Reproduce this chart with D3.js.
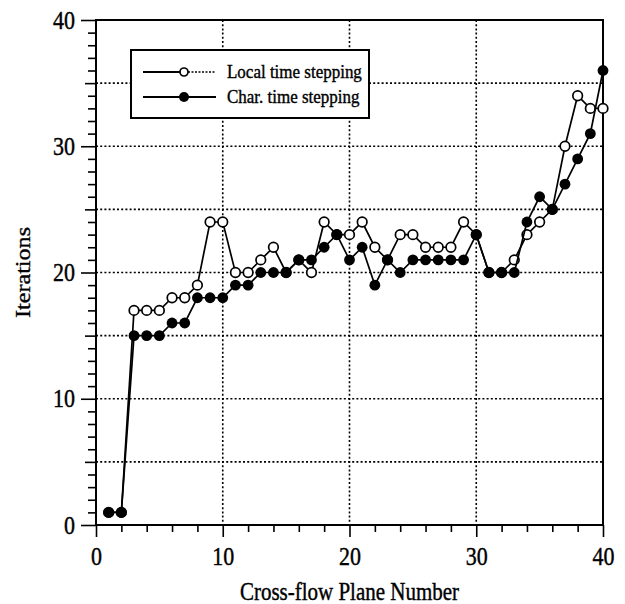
<!DOCTYPE html>
<html lang="en">
<head>
    <meta charset="UTF-8">
    <title>Iterations per cross-flow plane</title>
    <script type="text/javascript" src="https://d3js.org/d3.v7.min.js"></script>
    <style>
      body { margin: 0; background: #fff; }
      text { font-family: "Liberation Serif", "Times New Roman", serif; fill: #000; stroke: #000; stroke-width: 0.35px; }
    </style>
    <script type="text/javascript">
      // plane numbers along x
      var planes = [1, 2, 3, 4, 5, 6, 7, 8, 9, 10, 11, 12, 13, 14, 15, 16, 17, 18, 19, 20,
                    21, 22, 23, 24, 25, 26, 27, 28, 29, 30, 31, 32, 33, 34, 35, 36, 37, 38, 39, 40];

      // iterations, local time stepping (open circles)
      var localSteps = [1, 1, 17, 17, 17, 18, 18, 19, 24, 24, 20, 20, 21, 22, 20, 21, 20, 24, 23, 23,
                        24, 22, 21, 23, 23, 22, 22, 22, 24, 23, 20, 20, 21, 23, 24, 25, 30, 34, 33, 33];

      // iterations, characteristic time stepping (filled circles)
      var charSteps = [1, 1, 15, 15, 15, 16, 16, 18, 18, 18, 19, 19, 20, 20, 20, 21, 21, 22, 23, 21,
                       22, 19, 21, 20, 21, 21, 21, 21, 21, 23, 20, 20, 20, 24, 26, 25, 27, 29, 31, 36];

      var seriesNames = ["Local time stepping", "Char. time stepping"];

      // tick values
      var xLabelTicks = [0, 10, 20, 30, 40];
      var xMinorTicks = [2, 4, 6, 8, 12, 14, 16, 18, 22, 24, 26, 28, 32, 34, 36, 38];
      var yLabelTicks = [0, 10, 20, 30, 40];
      var yMidTicks = [5, 15, 25, 35];
      var yMinorTicks = [1, 2, 3, 4, 6, 7, 8, 9, 11, 12, 13, 14, 16, 17, 18, 19,
                         21, 22, 23, 24, 26, 27, 28, 29, 31, 32, 33, 34, 36, 37, 38, 39];
      var xGrid = [10, 20, 30];
      var yGrid = [5, 10, 15, 20, 25, 30, 35];

      function chart() {
        var width = 625, height = 604;
        var left = 96, right = 603, top = 20, bottom = 525;
        var tall = 1.15; // glyphs are a bit taller than wide

        var svg = d3.select("body").append("svg")
                    .attr("width", width)
                    .attr("height", height);

        var x = d3.scaleLinear().domain([0, 40]).range([left, right]);
        var y = d3.scaleLinear().domain([0, 40]).range([bottom, top]);

        // dotted grid
        var grid = svg.append("g")
                      .attr("stroke", "#000")
                      .attr("stroke-width", 1.6)
                      .attr("stroke-dasharray", "2,2.2");
        grid.selectAll("line.h").data(yGrid).enter().append("line")
            .attr("class", "h")
            .attr("x1", left).attr("x2", right)
            .attr("y1", function (d) { return y(d); })
            .attr("y2", function (d) { return y(d); });
        grid.selectAll("line.v").data(xGrid).enter().append("line")
            .attr("class", "v")
            .attr("y1", top).attr("y2", bottom)
            .attr("x1", function (d) { return x(d); })
            .attr("x2", function (d) { return x(d); });

        // axes: minor, middle and labelled ticks drawn separately
        function styleAxis(g) {
          g.select(".domain").remove();
          g.selectAll(".tick line").attr("stroke", "#000").attr("stroke-width", 1.6);
          g.selectAll(".tick text")
           .attr("font-size", "22px").attr("font-family", null)
           .attr("transform", "scale(1," + tall + ")");
        }
        svg.append("g").attr("transform", "translate(0," + bottom + ")")
           .call(d3.axisBottom(x).tickValues(xMinorTicks).tickSize(7).tickFormat(""))
           .call(styleAxis);
        svg.append("g").attr("transform", "translate(0," + bottom + ")")
           .call(d3.axisBottom(x).tickValues(xLabelTicks).tickSize(12).tickPadding(7))
           .call(styleAxis);

        svg.append("g").attr("transform", "translate(" + left + ",0)")
           .call(d3.axisLeft(y).tickValues(yMinorTicks).tickSize(8).tickFormat(""))
           .call(styleAxis);
        svg.append("g").attr("transform", "translate(" + left + ",0)")
           .call(d3.axisLeft(y).tickValues(yMidTicks).tickSize(11).tickFormat(""))
           .call(styleAxis);
        svg.append("g").attr("transform", "translate(" + left + ",0)")
           .call(d3.axisLeft(y).tickValues(yLabelTicks).tickSize(15).tickPadding(6))
           .call(styleAxis);

        // frame
        svg.append("rect")
           .attr("x", left).attr("y", top)
           .attr("width", right - left).attr("height", bottom - top)
           .attr("fill", "none").attr("stroke", "#000").attr("stroke-width", 2);

        // axis titles
        svg.append("text")
           .attr("transform", "translate(" + ((left + right) / 2) + ",600) scale(1," + tall + ")")
           .attr("text-anchor", "middle").attr("font-size", "21px")
           .text("Cross-flow Plane Number");
        svg.append("text")
           .attr("transform", "translate(30," + y(20) + ") rotate(-90) scale(" + tall + ",1)")
           .attr("text-anchor", "middle").attr("font-size", "21px")
           .text("Iterations");

        // series lines
        var line = function (vals) {
          return d3.line()
                   .x(function (d, i) { return x(planes[i]); })
                   .y(function (d) { return y(d); })(vals);
        };
        svg.append("path").attr("d", line(localSteps))
           .attr("fill", "none").attr("stroke", "#000").attr("stroke-width", 1.7);
        svg.selectAll("circle.local").data(localSteps).enter().append("circle")
           .attr("class", "local")
           .attr("cx", function (d, i) { return x(planes[i]); })
           .attr("cy", function (d) { return y(d); })
           .attr("r", 4.8)
           .attr("fill", "#fff").attr("stroke", "#000").attr("stroke-width", 1.7);

        svg.append("path").attr("d", line(charSteps))
           .attr("fill", "none").attr("stroke", "#000").attr("stroke-width", 1.7);
        svg.selectAll("circle.char").data(charSteps).enter().append("circle")
           .attr("class", "char")
           .attr("cx", function (d, i) { return x(planes[i]); })
           .attr("cy", function (d) { return y(d); })
           .attr("r", 5.4)
           .attr("fill", "#000");

        // legend
        var lg = svg.append("g");
        lg.append("rect")
          .attr("x", 131).attr("y", 50).attr("width", 238).attr("height", 68)
          .attr("fill", "#fff").attr("stroke", "#000").attr("stroke-width", 2);
        var rows = [72, 97];
        // open marker entry: solid lead-in, dotted tail
        lg.append("line").attr("x1", 143).attr("x2", 180).attr("y1", rows[0]).attr("y2", rows[0])
          .attr("stroke", "#000").attr("stroke-width", 2);
        lg.append("line").attr("x1", 188).attr("x2", 216).attr("y1", rows[0]).attr("y2", rows[0])
          .attr("stroke", "#000").attr("stroke-width", 1.3).attr("stroke-dasharray", "2,1.5");
        lg.append("circle").attr("cx", 184).attr("cy", rows[0]).attr("r", 4)
          .attr("fill", "#fff").attr("stroke", "#000").attr("stroke-width", 1.7);
        lg.append("line").attr("x1", 143).attr("x2", 216).attr("y1", rows[1]).attr("y2", rows[1])
          .attr("stroke", "#000").attr("stroke-width", 1.9);
        lg.append("circle").attr("cx", 184).attr("cy", rows[1]).attr("r", 5)
          .attr("fill", "#000");
        lg.selectAll("text").data(seriesNames).enter().append("text")
          .attr("transform", function (d, i) {
            return "translate(227," + (rows[i] + 6) + ") scale(1," + tall + ")";
          })
          .attr("font-size", "17px")
          .text(function (d) { return d; });
      }
    </script>
</head>
<body onload="chart()">
</body>
</html>
